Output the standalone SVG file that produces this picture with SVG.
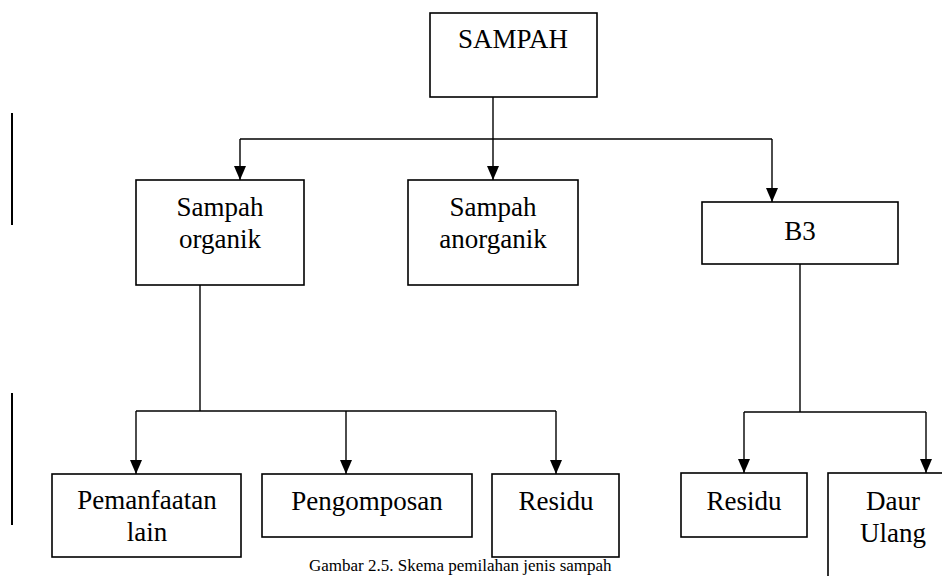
<svg xmlns="http://www.w3.org/2000/svg" width="942" height="576" viewBox="0 0 942 576">
<style>
.box{fill:#fff;stroke:#000;stroke-width:1.6}
.t{font-family:"Liberation Serif","Times New Roman",serif;font-size:27px;fill:#000;text-anchor:middle}
.c{fill:none;stroke:#000;stroke-width:1.4}
.cap{font-family:"Liberation Serif","Times New Roman",serif;font-size:17px;fill:#000}
</style>
<defs>
<marker id="ah" markerWidth="14" markerHeight="12" refX="14" refY="6" orient="auto" markerUnits="userSpaceOnUse">
<path d="M0,0 L14,6 L0,12 Z" fill="#000"/>
</marker>
</defs>
<rect width="942" height="576" fill="#fff"/>
<g id="marks">
<rect x="11" y="113" width="2" height="112" fill="#000"/>
<rect x="11" y="393" width="2" height="132" fill="#000"/>
</g>
<g id="connectors">
<path class="c" d="M493,97 V139"/>
<path class="c" d="M240,139 H772"/>
<path class="c" d="M240,139 V180" marker-end="url(#ah)"/>
<path class="c" d="M493,139 V180" marker-end="url(#ah)"/>
<path class="c" d="M772,139 V202" marker-end="url(#ah)"/>
<path class="c" d="M200,285 V411"/>
<path class="c" d="M136,411 H556"/>
<path class="c" d="M136,411 V474" marker-end="url(#ah)"/>
<path class="c" d="M346,411 V474" marker-end="url(#ah)"/>
<path class="c" d="M556,411 V474" marker-end="url(#ah)"/>
<path class="c" d="M800,264 V412"/>
<path class="c" d="M744,412 H926"/>
<path class="c" d="M744,412 V473" marker-end="url(#ah)"/>
<path class="c" d="M926,412 V473" marker-end="url(#ah)"/>
</g>
<g id="sampah">
<rect class="box" x="430" y="13" width="167" height="84"/>
<text class="t" x="513" y="48">SAMPAH</text>
</g>
<g id="organik">
<rect class="box" x="136" y="180" width="168" height="105"/>
<text class="t" x="220" y="216">Sampah</text>
<text class="t" x="220" y="248">organik</text>
</g>
<g id="anorganik">
<rect class="box" x="408" y="180" width="170" height="105"/>
<text class="t" x="493" y="216">Sampah</text>
<text class="t" x="493" y="248">anorganik</text>
</g>
<g id="b3">
<rect class="box" x="702" y="202" width="196" height="62"/>
<text class="t" x="800" y="240">B3</text>
</g>
<g id="pemanfaatan">
<rect class="box" x="52" y="474" width="189" height="83"/>
<text class="t" x="147" y="509">Pemanfaatan</text>
<text class="t" x="147" y="541">lain</text>
</g>
<g id="pengomposan">
<rect class="box" x="262" y="474" width="210" height="63"/>
<text class="t" x="367" y="510">Pengomposan</text>
</g>
<g id="residu1">
<rect class="box" x="492" y="474" width="127" height="83"/>
<text class="t" x="556" y="510">Residu</text>
</g>
<g id="residu2">
<rect class="box" x="681" y="473" width="126" height="64"/>
<text class="t" x="744" y="510">Residu</text>
</g>
<g id="daurulang">
<rect class="box" x="828" y="473" width="130" height="120"/>
<text class="t" x="893" y="510">Daur</text>
<text class="t" x="893" y="542">Ulang</text>
</g>
<text class="cap" x="309" y="571">Gambar 2.5. Skema pemilahan jenis sampah</text>
</svg>
